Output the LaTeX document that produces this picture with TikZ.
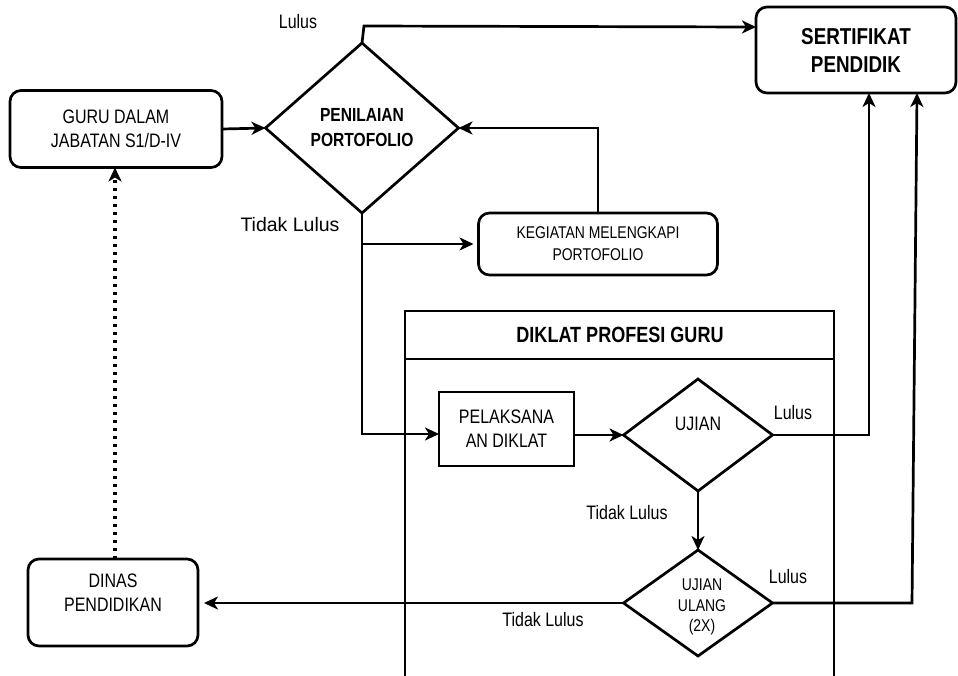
\documentclass[tikz,border=0pt]{standalone}
\usepackage{fontspec}
\setmainfont{Liberation Sans}[FakeStretch=0.82]
\newfontfamily\widefont{Liberation Sans}
\usetikzlibrary{shapes.geometric,arrows.meta}
\begin{document}
\begin{tikzpicture}[x=1pt,y=-1pt,
  every node/.style={inner sep=0pt,outer sep=0pt,align=center,font=\fontsize{19.5}{24}\selectfont},
  rbox/.style={draw,line width=2.7pt,rounded corners=11pt},
  sbox/.style={draw,line width=2.7pt},
  dia/.style={draw,line width=2.7pt,diamond},
  conn/.style={line width=2.7pt},
  arr/.style={line width=2.7pt,-{Stealth[length=14pt,width=13pt,inset=4pt]}},
  lbl/.style={font=\fontsize{19.5}{24}\selectfont}
]
\useasboundingbox (0,0) rectangle (958,675);

% nodes
\node[rbox,minimum width=212pt,minimum height=77pt] (guru) at (116,129) {GURU DALAM\\JABATAN S1/D-IV};
\node[dia,minimum width=193pt,minimum height=170pt,aspect=1.135,
  font=\fontsize{19}{25}\selectfont\bfseries] (pen) at (362,128) {PENILAIAN\\PORTOFOLIO};
\node[rbox,minimum width=200pt,minimum height=86pt,
  font=\fontsize{23}{28}\selectfont\bfseries] (sert) at (856,50) {SERTIFIKAT\\PENDIDIK};
\node[rbox,minimum width=239pt,minimum height=62pt,
  font=\fontsize{17}{22}\selectfont] (keg) at (598,244) {KEGIATAN MELENGKAPI\\PORTOFOLIO};
\node[sbox,minimum width=135pt,minimum height=74pt] (pel) at (506.5,429) {PELAKSANA\\AN DIKLAT};
\node[dia,minimum width=149pt,minimum height=112pt,aspect=1.33] (uj) at (698,435) {};
\node (ujt) at (698,424) {UJIAN};
\node[dia,minimum width=149pt,minimum height=106pt,aspect=1.4] (ujl) at (698,603) {};
\node[font=\fontsize{17}{20.5}\selectfont] (ujlt) at (702,607) {UJIAN\\ULANG\\(2X)};
\node[rbox,minimum width=170pt,minimum height=87pt] (dinas) at (113,602.5) {};
\node (dinast) at (113,593) {DINAS\\PENDIDIKAN};

% DIKLAT frame
\draw[sbox] (405,676) -- (405,311) -- (834,311) -- (834,676);
\draw[conn] (405,359) -- (834,359);
\node[font=\fontsize{22}{26}\selectfont\bfseries] (dik) at (620,335) {DIKLAT PROFESI GURU};

% connectors
\draw[arr] (guru.east) -- (pen.west);
\draw[arr] (pen.north) -- (364,26) -- (sert.west |- 0,27);
\draw[arr] (pen.south) |- ([yshift=-5pt]pel.west);
\draw[arr] (pen.south |- keg.west) -- ([xshift=-5pt]keg.west);
\draw[arr] (keg.north) |- (pen.east);
\draw[arr] ([yshift=-6pt]pel.east) -- (uj.west);
\draw[arr] (uj.east) -| ([xshift=13pt]sert.south);
\draw[arr] (uj.south) -- (ujl.north);
\draw[arr] (ujl.east) -- (912,603) -- ([xshift=61pt]sert.south);
\draw[arr,shorten >=6pt] (ujl.west) -- (dinas.east |- ujl.west);
\draw[line width=3.5pt,dash pattern=on 3.5pt off 4.5pt,-{Stealth[length=14pt,width=13pt,inset=4pt]}]
  (dinas.north -| 115,0) -- (guru.south -| 115,0);

% labels
\node[lbl] (l1) at (298,22) {Lulus};
\node[font=\widefont\fontsize{19.5}{24}\selectfont] (t1) at (290,225) {Tidak Lulus};
\node[lbl] (l2) at (793,413) {Lulus};
\node[lbl] (t2) at (627,513) {Tidak Lulus};
\node[lbl] (l3) at (788,577) {Lulus};
\node[lbl] (t3) at (543,620) {Tidak Lulus};
\end{tikzpicture}
\end{document}
